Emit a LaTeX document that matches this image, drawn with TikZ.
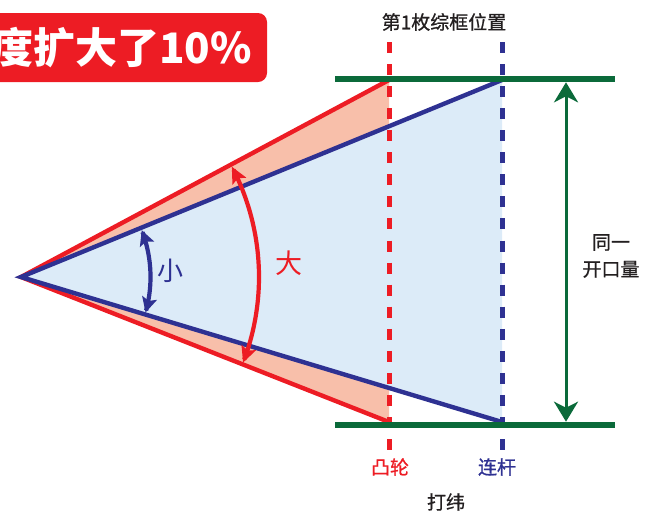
\documentclass[tikz,border=0pt]{standalone}
\usepackage{fontspec}
\setmainfont{Noto Sans CJK SC}
\newfontfamily\medfont{Noto Sans CJK SC}[FakeBold=0.8]
\usetikzlibrary{arrows.meta,calc}
\definecolor{cred}{HTML}{ED1C24}
\definecolor{cblue}{HTML}{2E3192}
\definecolor{cgreen}{HTML}{0B6A3A}
\definecolor{csalmon}{HTML}{F8BFAA}
\definecolor{clight}{HTML}{DCEBF8}
\definecolor{ctext}{HTML}{231F20}
\begin{document}
\begin{tikzpicture}[x=1pt,y=-1pt,
  redline/.style={cred,line width=4.4pt,line join=miter},
  blueline/.style={cblue,line width=4.4pt,line join=miter},
  dashline/.style={line width=5pt,dash pattern=on 11pt off 11.06pt},
  greenline/.style={cgreen,line width=6.5pt},
  lbl/.style={text=ctext,font=\medfont\fontsize{19}{27}\selectfont,inner sep=0pt}
]
\useasboundingbox (0,0) rectangle (645,515);
% title
\fill[cred,rounded corners=9pt] (-30,13) rectangle (267,82);
\node[anchor=east,text=white,inner sep=0pt,font=\bfseries\fontsize{42}{42}\selectfont] (title) at (252,48) {度扩大了10\%};
% geometry
\coordinate (A) at (21,277);
\coordinate (RT) at (389,80);
\coordinate (RB) at (389,422);
\coordinate (BT) at (502,80);
\coordinate (BB) at (502,422);
\coordinate (SU) at ($(A)!0.7651!(BT)$);
\coordinate (SL) at ($(A)!0.7651!(BB)$);
\fill[clight] (A) -- (BT) -- (BB) -- cycle;
\fill[csalmon] (A) -- (RT) -- (SU) -- cycle;
\fill[csalmon] (A) -- (RB) -- (SL) -- cycle;
\draw[redline] (RT) -- (A) -- (RB);
\draw[blueline] (BT) -- (A) -- (BB);
% dashed position lines
\coordinate (RDt) at (389,42);
\coordinate (RDb) at (389,450);
\coordinate (BDt) at (502,42);
\coordinate (BDb) at (502,450);
\draw[dashline,cred] (RDt) -- (RDb);
\draw[dashline,cblue] (BDt) -- (BDb);
% green lines
\coordinate (GTl) at (335,79);
\coordinate (GTr) at (615,79);
\coordinate (GBl) at (335,425);
\coordinate (GBr) at (615,425);
\draw[greenline] (GTl) -- (GTr);
\draw[greenline] (GBl) -- (GBr);
\coordinate (Ga) at (566,82.3);
\coordinate (Gb) at (566,421.7);
\draw[cgreen,line width=3pt,{Stealth[length=20pt,width=24pt,inset=6pt]}-{Stealth[length=20pt,width=24pt,inset=6pt]}] (Ga) -- (Gb);
% arcs
\draw[cblue,line width=4.2pt,{Stealth[length=15pt,width=15pt,inset=3pt]}-{Stealth[length=15pt,width=15pt,inset=3pt]}]
  plot[domain=-21.2:15.9,samples=40] ({21+129.5*cos(\x)},{277+129.5*sin(\x)});
\draw[cred,line width=4.2pt,{Stealth[length=16pt,width=15pt,inset=3pt]}-{Stealth[length=16pt,width=15pt,inset=3pt]}]
  plot[domain=-27.6:21.1,samples=60] ({21+238*cos(\x)},{277+238*sin(\x)});
% labels
\node[lbl,text=cblue,font=\fontsize{26}{26}\selectfont] (small) at (170,271) {小};
\node[lbl,text=cred,font=\fontsize{27}{27}\selectfont] (big) at (289,263) {大};
\node[lbl] (frame) at (444,22) {第1枚综框位置};
\node[lbl,text=cred] (cam) at (390,467) {凸轮};
\node[lbl,text=cblue] (link) at (497,467) {连杆};
\node[lbl] (beat) at (446,502) {打纬};
\node[lbl,align=center] (open) at (611,256) {同一\\开口量};
\end{tikzpicture}
\end{document}
